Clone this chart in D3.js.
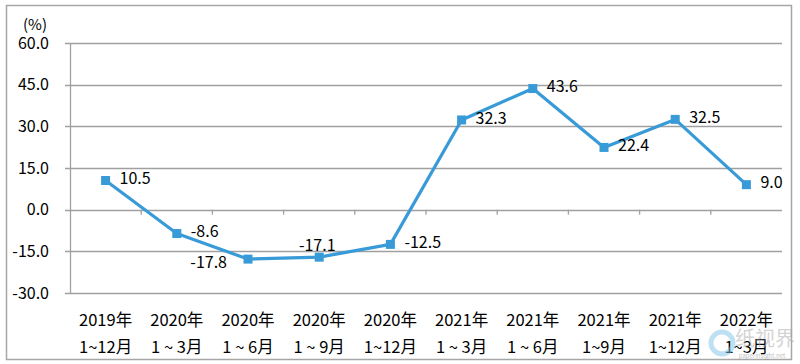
<!DOCTYPE html>
<html>
<head>
<meta charset="utf-8">
<script src="https://cdn.jsdelivr.net/npm/d3@7"></script>
<style>
  body { margin: 0; background: #fff; }
  text { font-family: "Noto Sans CJK SC", "Noto Sans", sans-serif; fill: #000; }
</style>
</head>
<body>
<div id="chart"></div>
<script>
// Data
const years = ["2019年", "2020年", "2020年", "2020年", "2020年", "2021年", "2021年", "2021年", "2021年", "2022年"];
const periods = ["1~12月", "1 ~ 3月", "1 ~ 6月", "1 ~ 9月", "1~12月", "1 ~ 3月", "1 ~ 6月", "1~9月", "1~12月", "1~3月"];
const growth = [10.5, -8.6, -17.8, -17.1, -12.5, 32.3, 43.6, 22.4, 32.5, 9.0];
const yTicks = [-30, -15, 0, 15, 30, 45, 60];
// label placement: r = right, l = lower-left, t = above
const labelPos = ["r", "r", "l", "t", "r", "r", "r", "r", "r", "r"];

const width = 800, height = 364;
const margin = { left: 70, right: 18, top: 43, bottom: 71 };

const svg = d3.select("#chart").append("svg")
    .attr("width", width)
    .attr("height", height);

//outer frame
svg.append("rect")
    .attr("x", 6.5).attr("y", 5.5)
    .attr("width", 785).attr("height", 354)
    .attr("fill", "none")
    .attr("stroke", "#a6a6a6")
    .attr("stroke-width", 1.5);

const idx = d3.range(growth.length);
const x = d3.scaleBand()
    .domain(idx)
    .range([margin.left, width - margin.right])
    .paddingInner(0).paddingOuter(0);

const y = d3.scaleLinear()
    .domain([-30, 60])
    .range([height - margin.bottom, margin.top]);

//Gridlines
svg.append("g")
    .selectAll("line")
    .data(yTicks)
    .join("line")
    .attr("x1", margin.left - 5)
    .attr("x2", width - margin.right)
    .attr("y1", d => Math.round(y(d)) + 0.5)
    .attr("y2", d => Math.round(y(d)) + 0.5)
    .attr("stroke", "#a0a0a0")
    .attr("stroke-width", 1.3);

//Y axis line
svg.append("line")
    .attr("x1", margin.left + 0.5).attr("x2", margin.left + 0.5)
    .attr("y1", y(60)).attr("y2", y(-30))
    .attr("stroke", "#a0a0a0")
    .attr("stroke-width", 1.3);

//Category ticks on the zero line
svg.append("g")
    .selectAll("line")
    .data(idx.slice(1))
    .join("line")
    .attr("x1", d => x(d)).attr("x2", d => x(d))
    .attr("y1", y(0)).attr("y2", y(0) + 5)
    .attr("stroke", "#a0a0a0")
    .attr("stroke-width", 1.3);

//Y tick labels
svg.append("g")
    .selectAll("text")
    .data(yTicks)
    .join("text")
    .attr("x", 49)
    .attr("y", d => y(d))
    .attr("dy", "0.36em")
    .attr("text-anchor", "end")
    .style("font-size", "16px")
    .text(d => d.toFixed(1));

svg.append("text")
    .attr("x", 35).attr("y", 30)
    .attr("text-anchor", "middle")
    .style("font-size", "15px")
    .text("(%)");

//X labels
const xl = svg.append("g");
xl.selectAll("text.yr")
    .data(idx)
    .join("text")
    .attr("class", "yr")
    .attr("x", d => x(d) + x.bandwidth() / 2)
    .attr("y", 326)
    .attr("text-anchor", "middle")
    .style("font-size", "16.5px")
    .text(d => years[d]);
xl.selectAll("text.pd")
    .data(idx)
    .join("text")
    .attr("class", "pd")
    .attr("x", d => x(d) + x.bandwidth() / 2)
    .attr("y", 353)
    .attr("text-anchor", "middle")
    .style("font-size", "16.5px")
    .style("white-space", "pre")
    .text(d => periods[d]);

//Line
const line = d3.line()
    .x(d => x(d) + x.bandwidth() / 2)
    .y(d => y(growth[d]));

svg.append("path")
    .datum(idx)
    .attr("d", line)
    .attr("fill", "none")
    .attr("stroke", "#389bd8")
    .attr("stroke-width", 3.2)
    .attr("stroke-linejoin", "round");

svg.append("g")
    .selectAll("rect")
    .data(idx)
    .join("rect")
    .attr("x", d => x(d) + x.bandwidth() / 2 - 4.5)
    .attr("y", d => y(growth[d]) - 4.5)
    .attr("width", 9).attr("height", 9)
    .attr("fill", "#389bd8");

//Data labels
svg.append("g")
    .selectAll("text")
    .data(idx)
    .join("text")
    .attr("x", d => {
        const cx = x(d) + x.bandwidth() / 2;
        if (labelPos[d] === "l") return cx - 21;
        if (labelPos[d] === "t") return cx - 2;
        return cx + 14;
    })
    .attr("y", d => {
        const cy = y(growth[d]);
        if (labelPos[d] === "l") return cy + 3;
        if (labelPos[d] === "t") return cy - 12;
        return cy - 2;
    })
    .attr("dy", "0.36em")
    .attr("text-anchor", d => labelPos[d] === "t" ? "middle" : (labelPos[d] === "l" ? "end" : "start"))
    .style("font-size", "16px")
    .text(d => growth[d].toFixed(1));

//Watermark
const wm = svg.append("g").attr("opacity", 0.5);
wm.append("circle")
    .attr("cx", 722).attr("cy", 343).attr("r", 11)
    .attr("fill", "none").attr("stroke", "#7fc3e8").attr("stroke-width", 5);
wm.append("text")
    .attr("x", 765).attr("y", 346)
    .attr("text-anchor", "middle")
    .style("font-size", "20px")
    .style("fill", "#aaa")
    .text("纸视界");
wm.append("text")
    .attr("x", 762).attr("y", 358)
    .attr("text-anchor", "middle")
    .style("font-size", "6px")
    .style("fill", "#888")
    .text("paperinsight.net");
</script>
</body>
</html>
